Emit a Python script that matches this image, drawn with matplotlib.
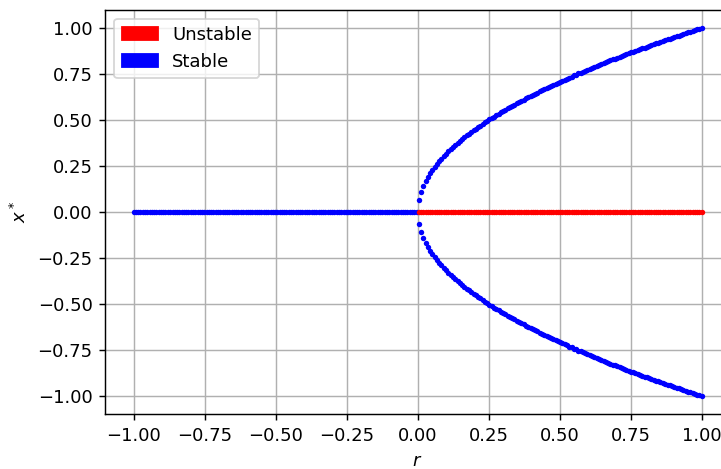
import numpy as np
import matplotlib

matplotlib.use("Agg")
import matplotlib.pyplot as plt
import matplotlib.patches as mpatches

# sampled r values for r > 0 (mirrored for r < 0)
r_pos = np.array([
    0.004, 0.012, 0.020, 0.028, 0.036, 0.044, 0.052, 0.060, 0.068, 0.076,
    0.084, 0.092, 0.100, 0.108, 0.116, 0.124, 0.133, 0.141, 0.149, 0.157,
    0.165, 0.173, 0.181, 0.189, 0.197, 0.205, 0.213, 0.221, 0.229, 0.237,
    0.245, 0.253, 0.261, 0.269, 0.277, 0.285, 0.293, 0.301, 0.309, 0.317,
    0.325, 0.333, 0.341, 0.349, 0.357, 0.365, 0.373, 0.382, 0.390, 0.398,
    0.406, 0.414, 0.422, 0.430, 0.438, 0.446, 0.454, 0.462, 0.470, 0.478,
    0.486, 0.494, 0.502, 0.510, 0.518, 0.526, 0.534, 0.542, 0.550, 0.558,
    0.566, 0.574, 0.582, 0.590, 0.598, 0.606, 0.614, 0.622, 0.631, 0.639,
    0.647, 0.655, 0.663, 0.671, 0.679, 0.687, 0.695, 0.703, 0.711, 0.719,
    0.727, 0.735, 0.743, 0.751, 0.759, 0.767, 0.775, 0.783, 0.791, 0.799,
    0.807, 0.815, 0.823, 0.831, 0.839, 0.847, 0.855, 0.863, 0.871, 0.880,
    0.888, 0.896, 0.904, 0.912, 0.920, 0.928, 0.936, 0.944, 0.952, 0.960,
    0.968, 0.976, 0.984, 0.992, 1.000,
])

# upper stable branch x* for r > 0 (lower branch is its mirror)
x_upper = np.array([
    0.063, 0.110, 0.142, 0.168, 0.190, 0.210, 0.228, 0.245, 0.261, 0.276,
    0.290, 0.304, 0.317, 0.329, 0.341, 0.353, 0.364, 0.375, 0.385, 0.396,
    0.406, 0.416, 0.425, 0.434, 0.444, 0.453, 0.461, 0.470, 0.478, 0.487,
    0.495, 0.503, 0.511, 0.519, 0.526, 0.534, 0.541, 0.549, 0.556, 0.563,
    0.570, 0.577, 0.584, 0.591, 0.598, 0.605, 0.611, 0.618, 0.624, 0.631,
    0.637, 0.643, 0.649, 0.656, 0.662, 0.668, 0.674, 0.680, 0.685, 0.691,
    0.697, 0.703, 0.709, 0.714, 0.720, 0.725, 0.731, 0.736, 0.742, 0.747,
    0.753, 0.758, 0.763, 0.768, 0.774, 0.779, 0.784, 0.789, 0.794, 0.799,
    0.804, 0.809, 0.814, 0.819, 0.824, 0.829, 0.834, 0.838, 0.843, 0.848,
    0.853, 0.857, 0.862, 0.867, 0.871, 0.876, 0.880, 0.885, 0.889, 0.894,
    0.898, 0.903, 0.907, 0.912, 0.916, 0.921, 0.925, 0.929, 0.934, 0.938,
    0.942, 0.946, 0.951, 0.955, 0.959, 0.963, 0.967, 0.971, 0.976, 0.980,
    0.984, 0.988, 0.992, 0.996, 1.000,
])

r_neg = -r_pos[::-1]
x_zero = np.zeros_like(r_pos)

dpi = 130
fig = plt.figure(figsize=(721 / dpi, 469 / dpi), dpi=dpi)
ax = fig.add_axes([0.146, 0.1164, 1.0125 - 0.146, 0.9795 - 0.1164])

dot = 9
ax.scatter(r_neg, x_zero, s=dot, color="b", linewidths=0, zorder=3)
ax.scatter(r_pos, x_zero, s=dot, color="r", linewidths=0, zorder=3)
ax.scatter(r_pos, x_upper, s=dot, color="b", linewidths=0, zorder=3)
ax.scatter(r_pos, -x_upper, s=dot, color="b", linewidths=0, zorder=3)

ax.set_xlim(-1.1, 1.1)
ax.set_ylim(-1.1, 1.1)
ax.set_xticks(np.arange(-1.0, 1.01, 0.25))
ax.set_yticks(np.arange(-1.0, 1.01, 0.25))
ax.grid(True)
ax.set_axisbelow(True)
ax.set_xlabel("$r$")
ax.set_ylabel("$x^*$")

handles = [
    mpatches.Patch(color="r", label="Unstable"),
    mpatches.Patch(color="b", label="Stable"),
]
ax.legend(handles=handles, loc="upper left")

fig.savefig("out.png", dpi=dpi)
